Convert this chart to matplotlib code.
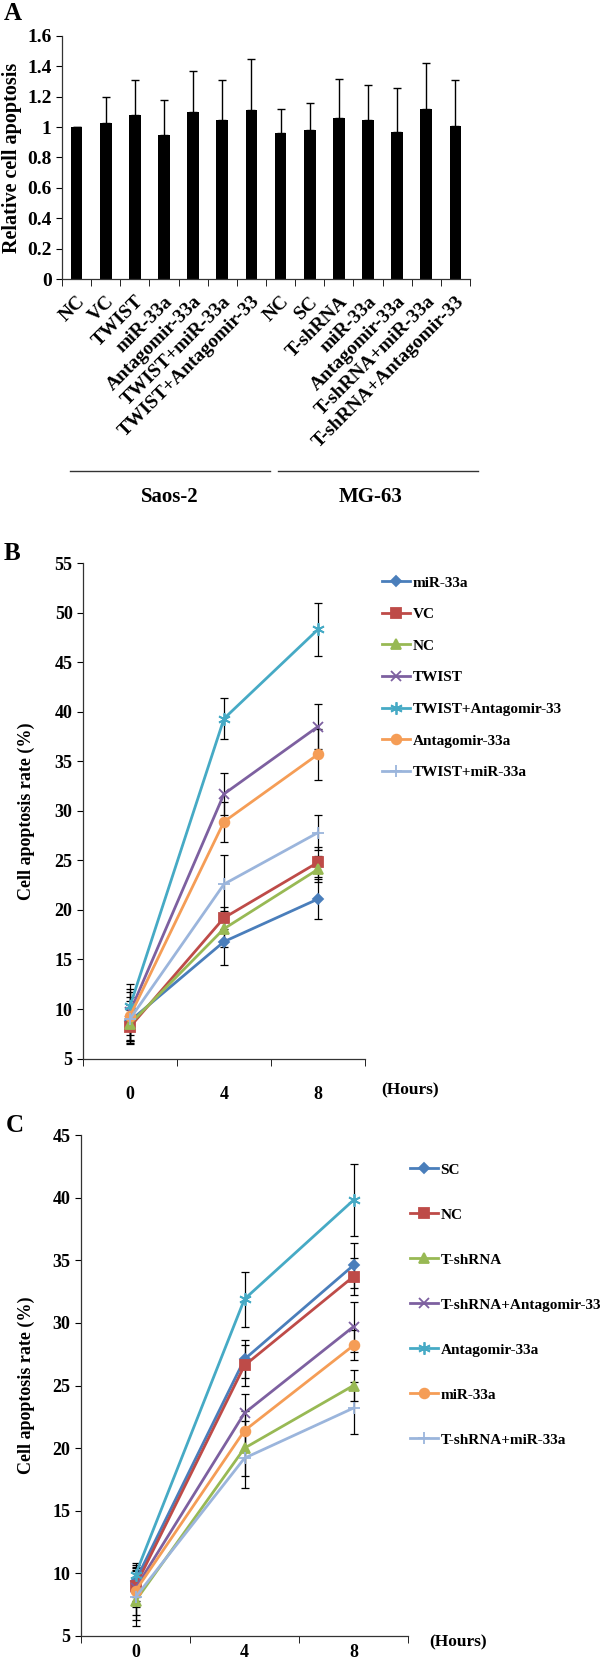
import matplotlib
matplotlib.use("Agg")
import matplotlib.pyplot as plt
from matplotlib.lines import Line2D

plt.rcParams["font.family"] = ["Liberation Serif", "DejaVu Serif"]
plt.rcParams["font.weight"] = "bold"
plt.rcParams["axes.labelweight"] = "bold"

# ---- data, panel A
a_groups = ["NC", "VC", "TWIST", "miR-33a", "Antagomir-33a", "TWIST+miR-33a", "TWIST+Antagomir-33",
            "NC", "SC", "T-shRNA", "miR-33a", "Antagomir-33a", "T-shRNA+miR-33a", "T-shRNA+Antagomir-33"]
a_vals = [1.00, 1.03, 1.08, 0.95, 1.10, 1.05, 1.11, 0.96, 0.98, 1.06, 1.05, 0.97, 1.12, 1.01]
a_err = [0.003, 0.17, 0.23, 0.23, 0.27, 0.26, 0.34, 0.16, 0.18, 0.26, 0.23, 0.29, 0.30, 0.30]
a_yticks = [0, 0.2, 0.4, 0.6, 0.8, 1, 1.2, 1.4, 1.6]
a_ytick_labels = ["0", "0.2", "0.4", "0.6", "0.8", "1", "1.2", "1.4", "1.6"]

# ---- data, panel B / C
hours = ["0", "4", "8"]
b_labels = ["miR-33a", "VC", "NC", "TWIST", "TWIST+Antagomir-33", "Antagomir-33a", "TWIST+miR-33a"]
b_mir = [8.8, 16.8, 21.1]
b_vc = [8.2, 19.2, 24.8]
b_nc = [8.5, 18.1, 24.1]
b_twist = [9.7, 31.7, 38.5]
b_twist_anta = [10.3, 39.3, 48.3]
b_anta = [9.3, 28.9, 35.7]
b_twist_mir = [9.0, 22.6, 27.8]
b_mir_err = [2.0, 2.4, 2.0]
b_vc_err = [1.7, 1.1, 1.5]
b_nc_err = [1.9, 1.8, 1.3]
b_twist_err = [2.3, 2.1, 2.3]
b_twist_anta_err = [2.2, 2.1, 2.7]
b_anta_err = [2.4, 2.0, 2.6]
b_twist_mir_err = [2.2, 2.9, 1.8]

c_labels = ["SC", "NC", "T-shRNA", "T-shRNA+Antagomir-33", "Antagomir-33a", "miR-33a", "T-shRNA+miR-33a"]
c_sc = [9.4, 27.1, 34.6]
c_nc = [9.0, 26.6, 33.7]
c_tsh = [7.8, 20.0, 25.0]
c_tsh_anta = [8.8, 22.8, 29.7]
c_anta = [9.9, 31.9, 39.8]
c_mir = [8.6, 21.4, 28.2]
c_tsh_mir = [8.1, 19.2, 23.2]
c_sc_err = [1.3, 1.5, 1.8]
c_nc_err = [1.2, 1.6, 1.5]
c_tsh_err = [1.5, 2.2, 1.2]
c_tsh_anta_err = [1.5, 1.5, 2.0]
c_anta_err = [0.9, 2.2, 2.9]
c_mir_err = [1.9, 1.6, 1.2]
c_tsh_mir_err = [2.3, 2.4, 2.1]

colors = ["#4A7EBB", "#BE4B48", "#98B954", "#7D60A0", "#46AAC5", "#F59D56", "#9BB5DC"]
markers = ["D", "s", "^", "x", (6, 2, 0), "o", "+"]
msizes = [5.5, 7, 7, 7, 9, 7, 9]

W, H = 600, 1664
fig = plt.figure(figsize=(W / 100, H / 100), dpi=100)


def rect(x0, y0, x1, y1):
    return [x0 / W, 1 - y1 / H, (x1 - x0) / W, (y1 - y0) / H]


def style_axes(ax):
    for s in ["top", "right"]:
        ax.spines[s].set_visible(False)
    for s in ["left", "bottom"]:
        ax.spines[s].set_linewidth(0.9)
        ax.spines[s].set_color("#333333")


# ---------------- Panel A
ax = fig.add_axes(rect(62, 36, 470, 279))
x = list(range(len(a_groups)))
ax.bar(x, a_vals, width=0.4, color="black", zorder=2)
ax.errorbar(x, a_vals, yerr=[[0] * len(a_err), a_err], fmt="none", ecolor="black",
            elinewidth=1, capsize=3, capthick=1, zorder=1)
ax.set_xlim(-0.5, len(a_groups) - 0.5)
ax.set_ylim(0, 1.6)
ax.set_yticks(a_yticks)
ax.set_yticklabels(a_ytick_labels, fontsize=14)
ax.set_xticks(x)
ax.set_xticklabels(a_groups, rotation=45, ha="right", rotation_mode="anchor", fontsize=14)
ax.set_xticks([i - 0.5 for i in range(len(a_groups) + 1)], minor=True)
ax.tick_params(axis="x", which="major", length=0, pad=10)
ax.tick_params(axis="x", which="minor", length=5, direction="out")
ax.tick_params(axis="y", length=4, direction="out")
ax.set_ylabel("Relative cell apoptosis", fontsize=14.5)
ax.yaxis.set_label_coords((22 - 62) / 408, 0.5)
style_axes(ax)

fig.add_artist(Line2D([70 / W, 270 / W], [1 - 471 / H] * 2, color="#333333", lw=1))
fig.add_artist(Line2D([278 / W, 478 / W], [1 - 471 / H] * 2, color="#333333", lw=1))
fig.text(170 / W, 1 - 497 / H, "Saos-2", ha="center", va="center", fontsize=15)
fig.text(371 / W, 1 - 497 / H, "MG-63", ha="center", va="center", fontsize=15)
fig.text(4 / W, 1 - 13 / H, "A", ha="left", va="center", fontsize=18)


def line_panel(ax, series, errs, labels, ylim, yticks, pad, lab_x):
    xs = list(range(len(hours)))
    handles = []
    for i, (vals, err) in enumerate(zip(series, errs)):
        ax.errorbar(xs, vals, yerr=err, fmt="none", ecolor="black", elinewidth=0.9,
                    capsize=3, capthick=0.9, zorder=2)
        h, = ax.plot(xs, vals, color=colors[i], lw=2, marker=markers[i], ms=msizes[i],
                     mew=1.3, zorder=3, label=labels[i])
        handles.append(h)
    ax.set_xlim(-0.5, len(hours) - 0.5)
    ax.set_ylim(*ylim)
    ax.set_yticks(yticks)
    ax.set_yticklabels([str(t) for t in yticks], fontsize=13)
    ax.set_xticks(xs)
    ax.set_xticklabels(hours, fontsize=13)
    ax.set_xticks([i - 0.5 for i in range(len(hours) + 1)], minor=True)
    ax.tick_params(axis="x", which="major", length=0, pad=pad)
    ax.tick_params(axis="x", which="minor", length=5, direction="out")
    ax.tick_params(axis="y", length=4, direction="out")
    ax.set_ylabel("Cell apoptosis rate (%)", fontsize=13)
    ax.yaxis.set_label_coords(lab_x, 0.5)
    style_axes(ax)
    return handles


# ---------------- Panel B
axb = fig.add_axes(rect(83, 563, 365, 1058.6))
hb = line_panel(axb,
                [b_mir, b_vc, b_nc, b_twist, b_twist_anta, b_anta, b_twist_mir],
                [b_mir_err, b_vc_err, b_nc_err, b_twist_err, b_twist_anta_err, b_anta_err, b_twist_mir_err],
                b_labels, (5, 55), list(range(5, 60, 5)), 20, (35 - 83) / 282)
axb.legend(handles=hb, loc="upper left", bbox_to_anchor=(382 / W, 1 - 576 / H),
           bbox_transform=fig.transFigure, frameon=False, fontsize=11, borderpad=0,
           borderaxespad=0, handlelength=1.8, handletextpad=0.2, labelspacing=1.17)
fig.text(410 / W, 1 - 1090 / H, "(Hours)", ha="center", va="center", fontsize=12.5)
fig.text(4 / W, 1 - 553 / H, "B", ha="left", va="center", fontsize=18)

# ---------------- Panel C
axc = fig.add_axes(rect(81, 1135, 408, 1636))
hc = line_panel(axc,
                [c_sc, c_nc, c_tsh, c_tsh_anta, c_anta, c_mir, c_tsh_mir],
                [c_sc_err, c_nc_err, c_tsh_err, c_tsh_anta_err, c_anta_err, c_mir_err, c_tsh_mir_err],
                c_labels, (5, 45), list(range(5, 50, 5)), 6, (35 - 81) / 327)
axc.legend(handles=hc, loc="upper left", bbox_to_anchor=(410 / W, 1 - 1163 / H),
           bbox_transform=fig.transFigure, frameon=False, fontsize=11, borderpad=0,
           borderaxespad=0, handlelength=1.8, handletextpad=0.2, labelspacing=2.05)
fig.text(458 / W, 1 - 1642 / H, "(Hours)", ha="center", va="center", fontsize=12.5)
fig.text(6 / W, 1 - 1125 / H, "C", ha="left", va="center", fontsize=18)

fig.savefig("out.png", dpi=100)
